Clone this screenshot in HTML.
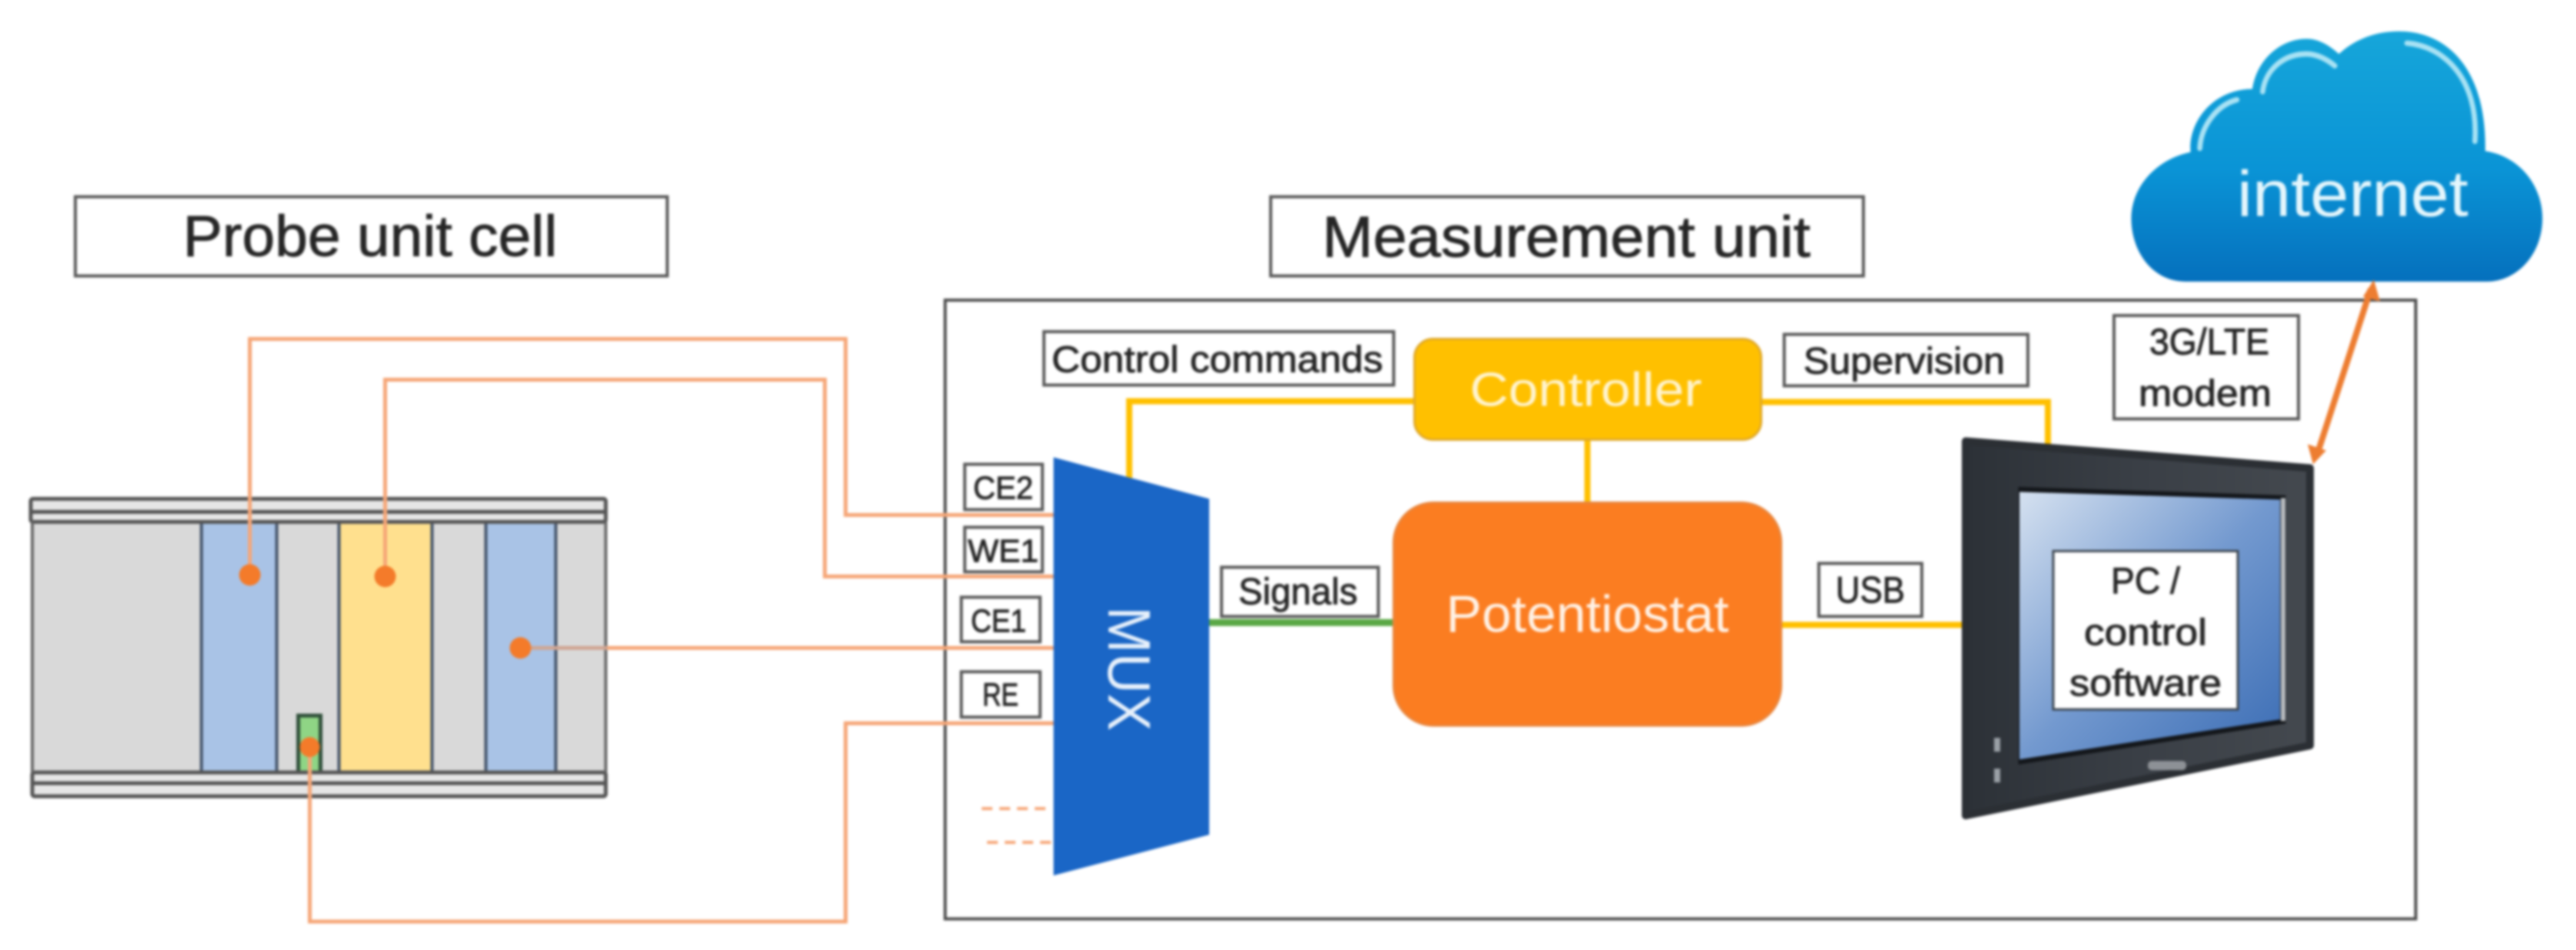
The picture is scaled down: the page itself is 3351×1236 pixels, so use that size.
<!DOCTYPE html>
<html><head><meta charset="utf-8"><style>
html,body{margin:0;padding:0;background:#fff}
svg{display:block;filter:blur(1.5px)}
text{font-family:"Liberation Sans",sans-serif;fill:#262626;stroke:#262626;stroke-width:.9px}
.w{fill:#fff;stroke:#595959;stroke-width:4}
.o{fill:none;stroke:#f6a677;stroke-width:5}
.y{fill:none;stroke:#ffc000;stroke-width:8}
.k{fill:none;stroke:#44546a;stroke-width:4}
.lt{stroke:none}
</style></head><body>
<svg width="3351" height="1236" viewBox="0 0 3351 1236" xmlns="http://www.w3.org/2000/svg">
<defs>
<linearGradient id="cl" x1="0" y1="0" x2="0" y2="1"><stop offset="0" stop-color="#16a6da"/><stop offset=".55" stop-color="#0a94d6"/><stop offset="1" stop-color="#0570bd"/></linearGradient>
<linearGradient id="sc" x1="0" y1="0" x2="1" y2="1"><stop offset="0" stop-color="#d5e1f0"/><stop offset=".5" stop-color="#7399cf"/><stop offset="1" stop-color="#3a6cb4"/></linearGradient>
<linearGradient id="mo" x1="0" y1="0" x2="1" y2="0"><stop offset="0" stop-color="#2c3137"/><stop offset=".5" stop-color="#3a3f46"/><stop offset="1" stop-color="#44494f"/></linearGradient>
</defs>
<rect width="3351" height="1236" fill="#fff"/>

<!-- Title boxes -->
<rect class="w" x="98" y="256" width="770" height="103"/>
<text x="238" y="333" font-size="75" textLength="487" lengthAdjust="spacingAndGlyphs">Probe unit cell</text>
<rect class="w" x="1653" y="256" width="771" height="103"/>
<text x="1720" y="334" font-size="75" textLength="635" lengthAdjust="spacingAndGlyphs">Measurement unit</text>

<!-- Measurement box -->
<rect x="1229.500" y="390.500" width="1913" height="805" fill="#fff" stroke="#4d4d4d" stroke-width="4"/>

<!-- Probe cell -->
<rect x="42" y="679" width="745" height="326" fill="#d9d9d9"/>
<rect x="262" y="679" width="98" height="326" fill="#a9c3e6"/>
<rect x="441" y="679" width="121" height="326" fill="#ffe08e"/>
<rect x="632" y="679" width="91" height="326" fill="#a9c3e6"/>
<rect x="388" y="931" width="29" height="74" fill="#8fd585" stroke="#2f4f3a" stroke-width="5"/>
<path class="k" d="M262 679V1005M360 679V1005M441 679V1005M562 679V1005M632 679V1005M723 679V1005"/>
<rect x="40" y="649" width="748" height="30" fill="#e6e6e6" stroke="#555" stroke-width="5" rx="3"/>
<path d="M40 666H788" stroke="#555" stroke-width="5"/>
<rect x="42" y="1005" width="746" height="31" fill="#e6e6e6" stroke="#555" stroke-width="5" rx="3"/>
<path d="M42 1019H788" stroke="#555" stroke-width="5"/>
<path d="M42 679V1005M788 679V1005" stroke="#666" stroke-width="4"/>

<!-- Orange wires -->
<path class="o" d="M325 748V441H1100V670H1372"/>
<path class="o" d="M501 750V494H1073V750H1372"/>
<path class="o" d="M790 843H1372"/>
<path d="M677 843H790" stroke="#d0a592" stroke-width="5"/>
<path class="o" d="M403 972V1199H1100V941H1372"/>
<path d="M1277 1052H1366M1284 1096H1368" fill="none" stroke="#f6a677" stroke-width="4" stroke-dasharray="14 9"/>
<g fill="#f47b2a"><circle cx="325" cy="748" r="14"/><circle cx="501" cy="750" r="14"/><circle cx="677" cy="843" r="14"/><circle cx="403" cy="972" r="13"/></g>

<!-- Yellow wires -->
<path class="y" d="M1469 622V522H1845"/>
<path class="y" d="M2065 570V658"/>
<path class="y" d="M2288 523H2664V580"/>
<path class="y" d="M2315 813H2558"/>
<path d="M1573 810H1815" fill="none" stroke="#5aa845" stroke-width="9"/>

<!-- MUX -->
<polygon points="1370.500,595 1573,649 1573,1086 1370.500,1139" fill="#1a66c6"/>
<text class="lt" transform="translate(1442,789) rotate(90)" font-size="78" textLength="162" lengthAdjust="spacingAndGlyphs" style="fill:#e6f0fb">MUX</text>

<!-- Pin labels -->
<rect class="w" x="1255" y="604" width="101" height="59"/>
<text x="1266" y="649" font-size="42" textLength="78" lengthAdjust="spacingAndGlyphs">CE2</text>
<rect class="w" x="1255" y="686" width="101" height="58"/>
<text x="1259" y="731" font-size="42" textLength="92" lengthAdjust="spacingAndGlyphs">WE1</text>
<rect class="w" x="1250.500" y="777" width="102.500" height="58"/>
<text x="1263" y="822" font-size="42" textLength="72" lengthAdjust="spacingAndGlyphs">CE1</text>
<rect class="w" x="1250.500" y="874" width="102.500" height="59"/>
<text x="1278" y="918" font-size="42" textLength="47" lengthAdjust="spacingAndGlyphs">RE</text>

<!-- Blocks -->
<rect x="1840" y="441" width="451" height="131" rx="24" fill="#ffc000" stroke="#e0a92a" stroke-width="3"/>
<text class="lt" x="1912" y="528" font-size="62" textLength="302" lengthAdjust="spacingAndGlyphs" style="fill:#fff4cf">Controller</text>
<rect x="1813" y="654" width="504" height="290" rx="52" fill="#fb7d21" stroke="#e9853c" stroke-width="3"/>
<text class="lt" x="1881" y="822" font-size="68" textLength="368" lengthAdjust="spacingAndGlyphs" style="fill:#fff1e4">Potentiostat</text>

<!-- Connector labels -->
<rect class="w" x="1358" y="431.500" width="455" height="69.500"/>
<text x="1368" y="484" font-size="48" textLength="431" lengthAdjust="spacingAndGlyphs">Control commands</text>
<rect class="w" x="1589" y="738" width="204" height="64"/>
<text x="1611" y="786" font-size="48" textLength="155" lengthAdjust="spacingAndGlyphs">Signals</text>
<rect class="w" x="2321" y="435" width="317" height="67"/>
<text x="2346" y="486" font-size="48" textLength="262" lengthAdjust="spacingAndGlyphs">Supervision</text>
<rect class="w" x="2366" y="733" width="134" height="69"/>
<text x="2388" y="784" font-size="48" textLength="90" lengthAdjust="spacingAndGlyphs">USB</text>
<rect class="w" x="2750" y="410.500" width="240" height="134.500"/>
<text x="2796" y="461" font-size="48" textLength="156" lengthAdjust="spacingAndGlyphs">3G/LTE</text>
<text x="2782" y="528" font-size="48" textLength="173" lengthAdjust="spacingAndGlyphs">modem</text>

<!-- Monitor -->
<polygon points="2557,574 3005,609 3005,970 2557,1061" fill="url(#mo)" stroke="#2b2f34" stroke-width="10" stroke-linejoin="round"/>
<polygon points="2627,635 2972,646 2972,940 2627,993" fill="#14171b" stroke="#14171b" stroke-width="3"/>
<polygon points="2627,640 2966,650 2966,936 2627,988" fill="url(#sc)"/>
<path d="M2970 648V938" stroke="#b8bcc0" stroke-width="6"/>
<rect x="2594" y="960" width="8" height="18" fill="#9aa0a6"/><rect x="2594" y="1000" width="8" height="18" fill="#9aa0a6"/>
<rect x="2794" y="990" width="50" height="12" rx="5" fill="#8d9196"/>
<rect x="2671" y="717" width="240" height="206" fill="#fff" stroke="#3c4650" stroke-width="3"/>
<text x="2746" y="772" font-size="48" textLength="90" lengthAdjust="spacingAndGlyphs">PC /</text>
<text x="2711" y="839" font-size="48" textLength="160" lengthAdjust="spacingAndGlyphs">control</text>
<text x="2692" y="905" font-size="48" textLength="198" lengthAdjust="spacingAndGlyphs">software</text>

<!-- Cloud -->
<g transform="translate(2300,0) scale(.6702,.7018)">
<path d="M810 522C745 522 705 465 705 405C705 345 755 295 820 282C815 225 865 165 940 165C950 105 1000 72 1045 72C1070 72 1090 85 1108 100C1140 72 1180 58 1225 58C1320 58 1395 130 1392 280C1460 290 1503 345 1503 405C1503 470 1455 522 1395 522Z" fill="url(#cl)"/>
<path d="M838 275C840 235 870 195 910 185M960 170C965 130 1000 100 1045 100C1065 100 1085 110 1100 122M1240 80C1310 85 1380 145 1372 262" fill="none" stroke="#a8e2f4" stroke-width="10" stroke-linecap="round"/>
</g>
<text class="lt" x="2910" y="281" font-size="84" textLength="301" lengthAdjust="spacingAndGlyphs" style="fill:#e4f6fc">internet</text>

<!-- Modem arrow -->
<path d="M3084 376L3014 592" stroke="#ed7d31" stroke-width="8" fill="none"/>
<polygon points="3088,364 3074,386 3096,392" fill="#ed7d31"/>
<polygon points="3009,604 3002,578 3026,586" fill="#ed7d31"/>
</svg>
</body></html>
